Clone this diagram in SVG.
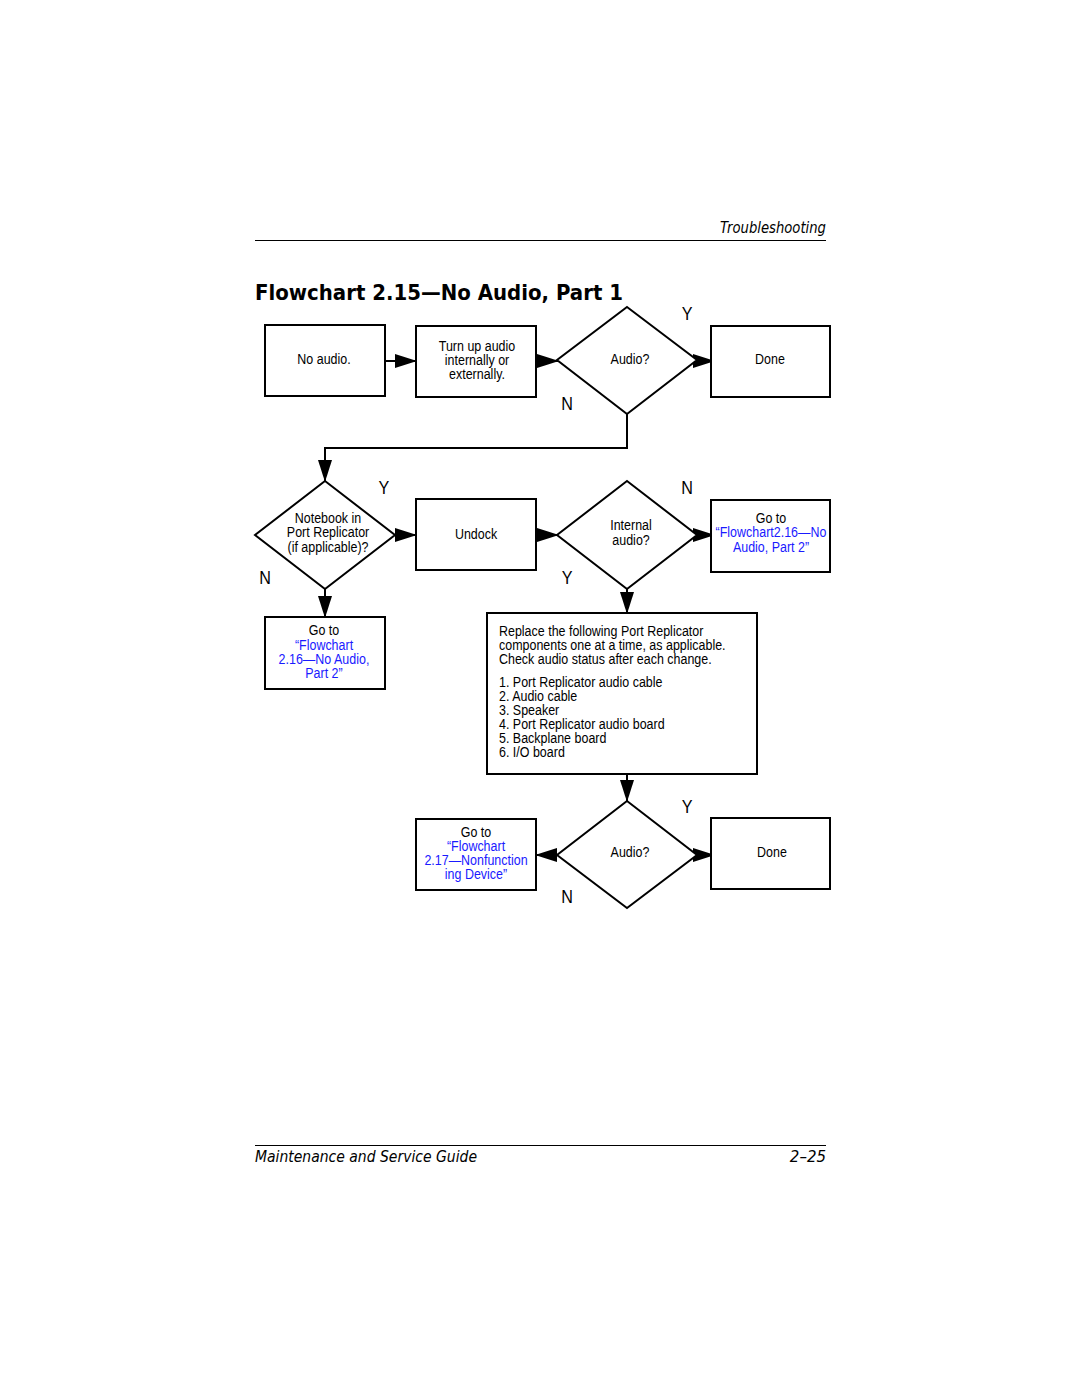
<svg xmlns="http://www.w3.org/2000/svg" width="1080" height="1397" viewBox="0 0 1080 1397">
<defs>
<marker id="ah" markerUnits="userSpaceOnUse" markerWidth="22" markerHeight="14" refX="21" refY="7" orient="auto">
<path d="M0,0 L22,7 L0,14 Z" fill="#000"/>
</marker>
<style>
.box{fill:#fff;stroke:#000;stroke-width:2}
.dia{fill:#fff;stroke:#000;stroke-width:2}
.con{fill:none;stroke:#000;stroke-width:2}
.t{font-family:"Liberation Sans",Arial,sans-serif;font-size:14.5px;fill:#000;transform-box:fill-box;transform-origin:left center;transform:scaleX(0.86)}
.c{text-anchor:middle;transform-origin:center center}
.lk{fill:#1a1aff}
.yn{font-family:"Liberation Sans",Arial,sans-serif;font-size:19px;fill:#000;text-anchor:middle;transform-box:fill-box;transform-origin:center center;transform:scaleX(0.85)}
.hdr{font-family:"DejaVu Sans","Liberation Sans",sans-serif;font-style:italic;font-size:15px;fill:#000}
.ttl{font-family:"DejaVu Sans","Liberation Sans",sans-serif;font-weight:bold;font-size:21px;fill:#000}
</style>
</defs>
<rect width="1080" height="1397" fill="#fff"/>
<g id="header">
<text class="hdr" x="826" y="233" text-anchor="end" textLength="106" lengthAdjust="spacingAndGlyphs">Troubleshooting</text>
<line x1="255" y1="240.5" x2="826" y2="240.5" stroke="#000" stroke-width="1"/>
<text class="ttl" x="255" y="300" textLength="368" lengthAdjust="spacingAndGlyphs">Flowchart 2.15—No Audio, Part 1</text>
</g>
<g id="connectors">
<line class="con" x1="385" y1="361" x2="416" y2="361" marker-end="url(#ah)"/>
<line class="con" x1="536" y1="361" x2="558" y2="361" marker-end="url(#ah)"/>
<line class="con" x1="690" y1="361" x2="714" y2="361" marker-end="url(#ah)"/>
<polyline class="con" points="627,414 627,448 325,448 325,481" marker-end="url(#ah)"/>
<line class="con" x1="390" y1="535" x2="416" y2="535" marker-end="url(#ah)"/>
<line class="con" x1="536" y1="535" x2="558" y2="535" marker-end="url(#ah)"/>
<line class="con" x1="690" y1="535" x2="714" y2="535" marker-end="url(#ah)"/>
<line class="con" x1="325" y1="589" x2="325" y2="617" marker-end="url(#ah)"/>
<line class="con" x1="627" y1="589" x2="627" y2="613" marker-end="url(#ah)"/>
<line class="con" x1="627" y1="774" x2="627" y2="801" marker-end="url(#ah)"/>
<line class="con" x1="557" y1="855" x2="536" y2="855" marker-end="url(#ah)"/>
<line class="con" x1="690" y1="855" x2="714" y2="855" marker-end="url(#ah)"/>
</g>
<g id="n_noaudio">
<rect class="box" x="265" y="325" width="120" height="71"/>
<text class="t c" x="324" y="364">No audio.</text>
</g>
<g id="n_turnup">
<rect class="box" x="416" y="326" width="120" height="71"/>
<text class="t c" x="477" y="351">Turn up audio</text>
<text class="t c" x="477" y="365">internally or</text>
<text class="t c" x="477" y="379">externally.</text>
</g>
<g id="n_audio1">
<polygon class="dia" points="627,307 697,360 627,414 557,360"/>
<text class="t c" x="630" y="364">Audio?</text>
</g>
<g id="n_done1">
<rect class="box" x="711" y="326" width="119" height="71"/>
<text class="t c" x="770" y="364">Done</text>
</g>
<g id="n_notebook">
<polygon class="dia" points="325,481 395,535 325,589 255,535"/>
<text class="t c" x="328" y="523">Notebook in</text>
<text class="t c" x="328" y="537">Port Replicator</text>
<text class="t c" x="328" y="552">(if applicable)?</text>
</g>
<g id="n_undock">
<rect class="box" x="416" y="499" width="120" height="71"/>
<text class="t c" x="476" y="539">Undock</text>
</g>
<g id="n_internal">
<polygon class="dia" points="627,481 697,535 627,589 557,535"/>
<text class="t c" x="631" y="530">Internal</text>
<text class="t c" x="631" y="545">audio?</text>
</g>
<g id="n_goto_right">
<rect class="box" x="711" y="500" width="119" height="72"/>
<text class="t c" x="771" y="523">Go to</text>
<text class="t c lk" x="771" y="537">“Flowchart2.16—No</text>
<text class="t c lk" x="771" y="552">Audio, Part 2”</text>
</g>
<g id="n_goto_left">
<rect class="box" x="265" y="617" width="120" height="72"/>
<text class="t c" x="324" y="635">Go to</text>
<text class="t c lk" x="324" y="650">“Flowchart</text>
<text class="t c lk" x="324" y="664">2.16—No Audio,</text>
<text class="t c lk" x="324" y="678">Part 2”</text>
</g>
<g id="n_replace">
<rect class="box" x="487" y="613" width="270" height="161"/>
<text class="t" x="499" y="636">Replace the following Port Replicator</text>
<text class="t" x="499" y="650">components one at a time, as applicable.</text>
<text class="t" x="499" y="664">Check audio status after each change.</text>
<text class="t" x="499" y="687">1. Port Replicator audio cable</text>
<text class="t" x="499" y="701">2. Audio cable</text>
<text class="t" x="499" y="715">3. Speaker</text>
<text class="t" x="499" y="729">4. Port Replicator audio board</text>
<text class="t" x="499" y="743">5. Backplane board</text>
<text class="t" x="499" y="757">6. I/O board</text>
</g>
<g id="n_audio2">
<polygon class="dia" points="627,801 697,855 627,908 557,855"/>
<text class="t c" x="630" y="857">Audio?</text>
</g>
<g id="n_goto_bottom">
<rect class="box" x="416" y="819" width="120" height="71"/>
<text class="t c" x="476" y="837">Go to</text>
<text class="t c lk" x="476" y="851">“Flowchart</text>
<text class="t c lk" x="476" y="865">2.17—Nonfunction</text>
<text class="t c lk" x="476" y="879">ing Device”</text>
</g>
<g id="n_done2">
<rect class="box" x="711" y="818" width="119" height="71"/>
<text class="t c" x="772" y="857">Done</text>
</g>
<g id="labels">
<text class="yn" x="687" y="320">Y</text>
<text class="yn" x="567" y="410">N</text>
<text class="yn" x="384" y="494">Y</text>
<text class="yn" x="265" y="584">N</text>
<text class="yn" x="687" y="494">N</text>
<text class="yn" x="567" y="584">Y</text>
<text class="yn" x="687" y="813">Y</text>
<text class="yn" x="567" y="903">N</text>
</g>
<g id="footer">
<line x1="255" y1="1145.5" x2="826" y2="1145.5" stroke="#000" stroke-width="1"/>
<text class="hdr" x="255" y="1162" textLength="222" lengthAdjust="spacingAndGlyphs">Maintenance and Service Guide</text>
<text class="hdr" x="826" y="1162" text-anchor="end">2–25</text>
</g>
</svg>
